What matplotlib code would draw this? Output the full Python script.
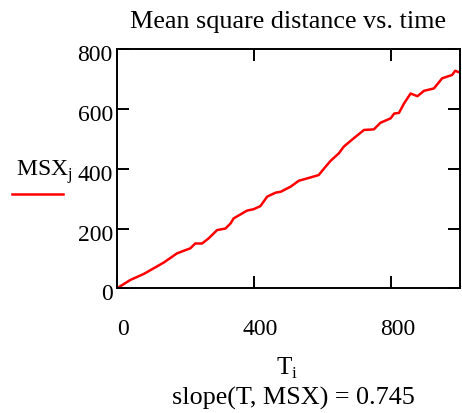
import matplotlib
matplotlib.use("Agg")
import matplotlib.pyplot as plt
import matplotlib.transforms as mtransforms
from matplotlib.lines import Line2D

# Dados
T = [0, 39, 78, 107, 136, 175, 214, 228, 248, 267, 292, 316, 331, 340, 379,
     399, 418, 438, 462, 477, 506, 530, 555, 588, 608, 623, 647, 661, 690,
     720, 749, 768, 798, 808, 822, 837, 856, 876, 895, 924, 948, 977, 986, 1000]
MSX = [0, 28, 48, 67, 86, 117, 134, 150, 150, 167, 195, 200, 217, 234, 260,
       265, 275, 307, 320, 323, 340, 360, 368, 379, 407, 427, 452, 474, 502,
       530, 532, 554, 569, 585, 587, 619, 652, 643, 661, 669, 703, 714, 728, 722]
xticks = [0, 400, 800]
yticks = [0, 200, 400, 600, 800]
titulo = "Mean square distance vs. time"
slope_txt = "slope(T, MSX) = 0.745"

plt.rcParams["font.family"] = "Liberation Serif"
plt.rcParams["mathtext.fontset"] = "custom"
plt.rcParams["mathtext.rm"] = "Liberation Serif"

fig = plt.figure(figsize=(4.62, 4.13), dpi=100)
ax = fig.add_axes([117 / 462, 1 - 288.3 / 413, 343 / 462, 239 / 413])

ax.plot(T, MSX, color="red", lw=1.8)
ax.set_xlim(0, 1000)
ax.set_ylim(0, 800)
ax.set_xticks(xticks)
ax.set_yticks(yticks)
ax.tick_params(direction="in", length=8.5, width=1.4, labelsize=17,
               top=True, right=True)
ax.tick_params(axis="x", pad=22)
ax.tick_params(axis="y", pad=3)
for s in ax.spines.values():
    s.set_linewidth(1.4)

# deslocamento dos rótulos (estilo Mathcad)
off_x = mtransforms.ScaledTranslation(6 / 100, 0, fig.dpi_scale_trans)
for lbl in ax.get_xticklabels():
    lbl.set_transform(lbl.get_transform() + off_x)
off_y = mtransforms.ScaledTranslation(0, -4 / 100, fig.dpi_scale_trans)
for lbl in ax.get_yticklabels():
    lbl.set_transform(lbl.get_transform() + off_y)

fig.text(288 / 462, 1 - 22 / 413, titulo, ha="center",
         va="center", fontsize=18.8)
fig.text(287 / 462, 1 - 368 / 413, r"$\mathrm{T}_\mathrm{i}$", ha="center",
         va="center", fontsize=18)
fig.text(293 / 462, 1 - 398 / 413, slope_txt, ha="center", va="center",
         fontsize=18.8)

# legenda
fig.text(16 / 462, 1 - 172 / 413, r"$\mathrm{MSX}_\mathrm{j}$", ha="left",
         va="center", fontsize=17)
fig.add_artist(Line2D([12 / 462, 63 / 462], [1 - 194 / 413, 1 - 194 / 413],
                      color="red", lw=1.8, transform=fig.transFigure))

fig.savefig("out.png", dpi=100)
